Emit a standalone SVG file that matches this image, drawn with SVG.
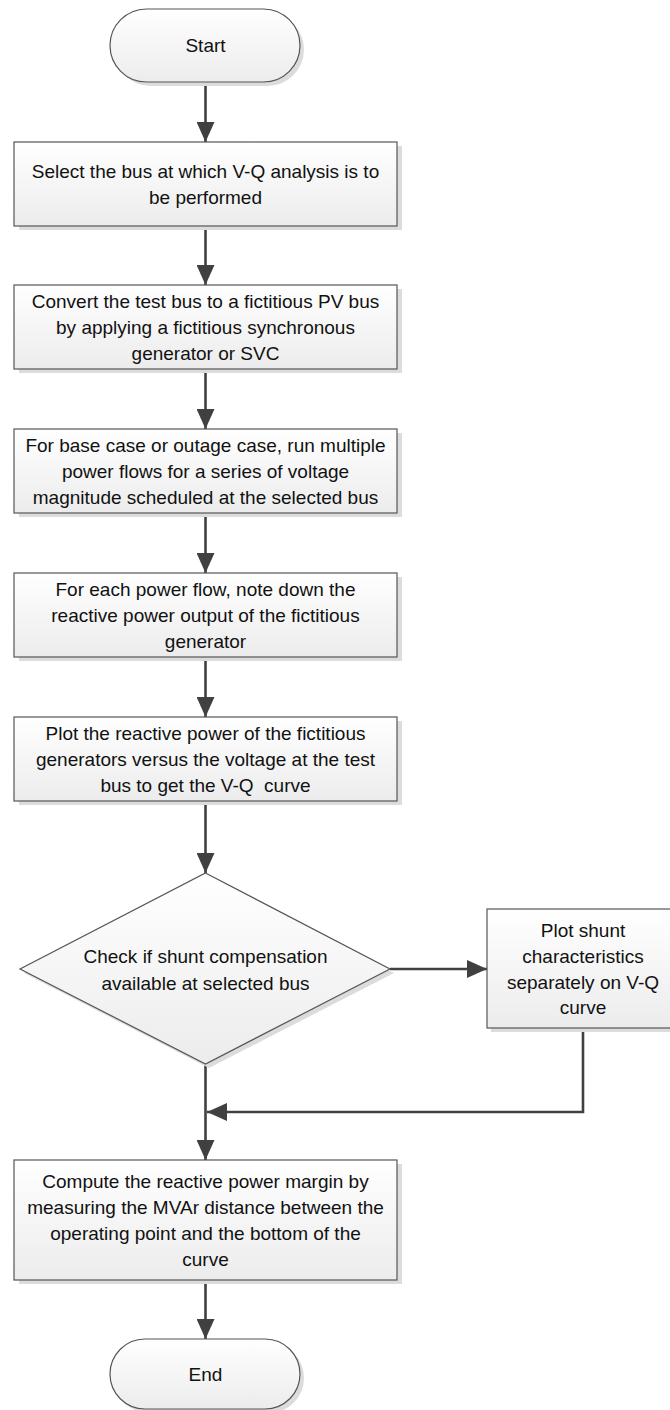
<svg xmlns="http://www.w3.org/2000/svg" width="670" height="1410" viewBox="0 0 670 1410">
<defs>
<linearGradient id="g" x1="0" y1="0" x2="0" y2="1">
<stop offset="0" stop-color="#ffffff"/>
<stop offset="1" stop-color="#ececec"/>
</linearGradient>
<marker id="ah" markerUnits="userSpaceOnUse" markerWidth="20" markerHeight="18" refX="20" refY="9" orient="auto">
<path d="M0,0 L20,9 L0,18 Z" fill="#404040"/>
</marker>
<style>
.shape{fill:url(#g);stroke:#555555;stroke-width:1.2}
.shadow{fill:#dcdcdc}
.t{font-family:"Liberation Sans",Arial,sans-serif;font-size:19px;fill:#111111;text-anchor:middle}
.c{fill:none;stroke:#404040;stroke-width:2.6}
</style>
</defs>
<rect width="670" height="1410" fill="#ffffff"/>

<g id="connectors">
<line class="c" x1="205.5" y1="82" x2="205.5" y2="142" marker-end="url(#ah)"/>
<line class="c" x1="205.5" y1="226" x2="205.5" y2="285" marker-end="url(#ah)"/>
<line class="c" x1="205.5" y1="369" x2="205.5" y2="429" marker-end="url(#ah)"/>
<line class="c" x1="205.5" y1="513" x2="205.5" y2="573" marker-end="url(#ah)"/>
<line class="c" x1="205.5" y1="657" x2="205.5" y2="717" marker-end="url(#ah)"/>
<line class="c" x1="205.5" y1="801" x2="205.5" y2="873" marker-end="url(#ah)"/>
<line class="c" x1="390" y1="969" x2="487" y2="969" marker-end="url(#ah)"/>
<line class="c" x1="205.5" y1="1064" x2="205.5" y2="1160" marker-end="url(#ah)"/>
<polyline class="c" points="583,1028 583,1112 207,1112" marker-end="url(#ah)"/>
<line class="c" x1="205.5" y1="1280" x2="205.5" y2="1339" marker-end="url(#ah)"/>
</g>

<g id="start">
<rect class="shadow" x="114" y="13" width="190" height="73" rx="36.5"/>
<rect class="shape" x="110" y="9" width="190" height="73" rx="36.5"/>
<text class="t" x="205.5" y="52">Start</text>
</g>

<g id="select-bus">
<rect class="shadow" x="19" y="146" width="383" height="84"/>
<rect class="shape" x="14" y="142" width="383" height="84"/>
<text class="t" x="205.5" y="178">Select the bus at which V-Q analysis is to</text>
<text class="t" x="205.5" y="204">be performed</text>
</g>

<g id="convert-bus">
<rect class="shadow" x="19" y="289" width="383" height="84"/>
<rect class="shape" x="14" y="285" width="383" height="84"/>
<text class="t" x="205.5" y="308">Convert the test bus to a fictitious PV bus</text>
<text class="t" x="205.5" y="334">by applying a fictitious synchronous</text>
<text class="t" x="205.5" y="360">generator or SVC</text>
</g>

<g id="run-power-flows">
<rect class="shadow" x="19" y="433" width="383" height="84"/>
<rect class="shape" x="14" y="429" width="383" height="84"/>
<text class="t" x="205.5" y="452">For base case or outage case, run multiple</text>
<text class="t" x="205.5" y="478">power flows for a series of voltage</text>
<text class="t" x="205.5" y="504">magnitude scheduled at the selected bus</text>
</g>

<g id="note-reactive-power">
<rect class="shadow" x="19" y="577" width="383" height="84"/>
<rect class="shape" x="14" y="573" width="383" height="84"/>
<text class="t" x="205.5" y="596">For each power flow, note down the</text>
<text class="t" x="205.5" y="622">reactive power output of the fictitious</text>
<text class="t" x="205.5" y="648">generator</text>
</g>

<g id="plot-vq">
<rect class="shadow" x="19" y="721" width="383" height="84"/>
<rect class="shape" x="14" y="717" width="383" height="84"/>
<text class="t" x="205.5" y="740">Plot the reactive power of the fictitious</text>
<text class="t" x="205.5" y="766">generators versus the voltage at the test</text>
<text class="t" x="205.5" y="792" xml:space="preserve">bus to get the V-Q  curve</text>
</g>

<g id="check-shunt">
<polygon class="shadow" points="209,877 394,973 209,1068 24,973"/>
<polygon class="shape" points="205.5,873 390,969 205.5,1064 20,969"/>
<text class="t" x="205.5" y="963">Check if shunt compensation</text>
<text class="t" x="205.5" y="990">available at selected bus</text>
</g>

<g id="plot-shunt">
<rect class="shadow" x="491" y="913" width="192" height="119"/>
<rect class="shape" x="487" y="909" width="192" height="119"/>
<text class="t" x="583" y="937">Plot shunt</text>
<text class="t" x="583" y="963">characteristics</text>
<text class="t" x="583" y="989">separately on V-Q</text>
<text class="t" x="583" y="1014">curve</text>
</g>

<g id="compute-margin">
<rect class="shadow" x="19" y="1164" width="383" height="120"/>
<rect class="shape" x="14" y="1160" width="383" height="120"/>
<text class="t" x="205.5" y="1188">Compute the reactive power margin by</text>
<text class="t" x="205.5" y="1214">measuring the MVAr distance between the</text>
<text class="t" x="205.5" y="1240">operating point and the bottom of the</text>
<text class="t" x="205.5" y="1266">curve</text>
</g>

<g id="end">
<rect class="shadow" x="114" y="1343" width="190" height="70" rx="35"/>
<rect class="shape" x="110" y="1339" width="190" height="70" rx="35"/>
<text class="t" x="205.5" y="1381">End</text>
</g>
</svg>
